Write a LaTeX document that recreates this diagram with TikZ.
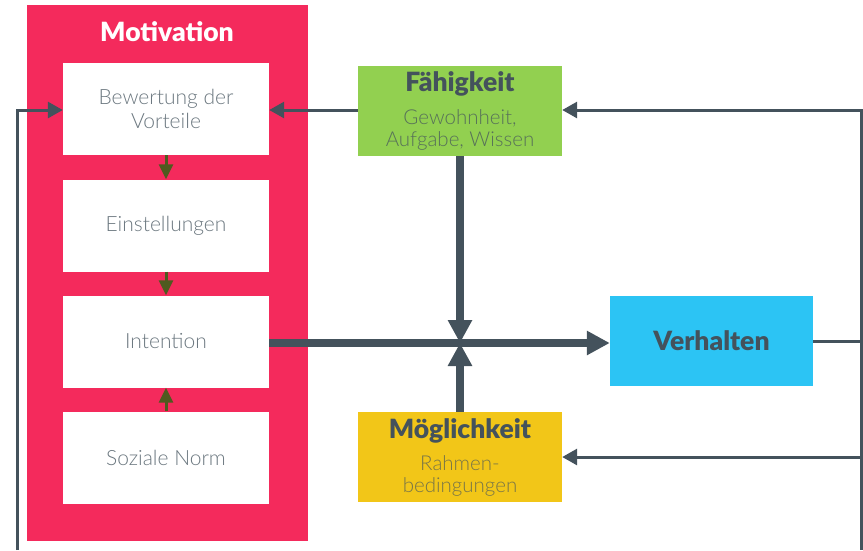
\documentclass[tikz,border=0pt]{standalone}
\usepackage{fontspec}
\setmainfont{Lato}
\newfontfamily\lightfont{Lato Light}
\newfontfamily\heavyfont{Lato Black}
\usetikzlibrary{arrows.meta, positioning}
\definecolor{motired}{RGB}{244,42,92}
\definecolor{faehgreen}{RGB}{146,208,80}
\definecolor{moegyellow}{RGB}{242,198,24}
\definecolor{verhblue}{RGB}{44,196,244}
\definecolor{slate}{RGB}{68,82,92}
\definecolor{stepolive}{RGB}{79,90,31}
\definecolor{boxgray}{RGB}{108,120,128}
\newcommand{\factorhead}{\heavyfont\fontsize{26.5}{30}\selectfont}

\begin{document}
\begin{tikzpicture}[x=1pt, y=-1pt,
  inbox/.style={fill=white, minimum width=206pt, minimum height=92pt, inner sep=0pt, align=center, text=boxgray, font=\lightfont\fontsize{21}{24}\selectfont},
  factor/.style={minimum width=204pt, minimum height=90pt, inner sep=0pt, align=center, font=\lightfont\fontsize{20.5}{22}\selectfont},
  innerarrow/.style={draw=stepolive, line width=3pt, -{Triangle[length=15pt, width=14pt]}},
  thickarrow/.style={draw=slate, line width=7.5pt, -{Triangle[length=23pt, width=23pt]}},
  thinline/.style={draw=slate, line width=3pt},
  thinarrow/.style={thinline, -{Triangle[length=15pt, width=16pt]}},
]
  \useasboundingbox (0,0) rectangle (863,550);

  % Motivation block
  \node[fill=motired, minimum width=281pt, minimum height=536pt, inner sep=0pt] (moti) at (167.5,273) {};
  \node[text=white, font=\heavyfont\fontsize{26.5}{30}\selectfont] (motititle) at (167,32) {Motivation};
  \node[inbox] (bew) at (166,109) {Bewertung der\\Vorteile};
  \node[inbox] (einst) at (166,225.5) {Einstellungen};
  \node[inbox] (inten) at (166,341.5) {Intention};
  \node[inbox] (norm) at (166,457.5) {Soziale Norm};

  % Factors
  \node[factor, fill=faehgreen, text=slate!75!faehgreen] (faeh) at (460,111) {\factorhead\color{slate}Fähigkeit\\[11pt]Gewohnheit,\\Aufgabe, Wissen};
  \node[factor, fill=moegyellow, text=slate!70!moegyellow] (moeg) at (460,457) {\factorhead\color{slate}Möglichkeit\\[10pt]Rahmen-\\bedingungen};
  \node[factor, fill=verhblue, text=slate, minimum width=203pt, font=\heavyfont\fontsize{26.5}{30}\selectfont] (verh) at (711.5,341) {Verhalten};

  % Inner steps
  \draw[innerarrow] (bew) -- (einst);
  \draw[innerarrow] (einst) -- (inten);
  \draw[innerarrow] (norm) -- (inten);

  % Main flow
  \coordinate (hub) at (460,343);
  \draw[thickarrow] (inten.east |- hub) -- (verh.west |- hub);
  \draw[thickarrow] (faeh.south) -- (hub);
  \draw[thickarrow] (moeg.north) -- (hub);

  % Feedback
  \coordinate (rtop) at (861,110);
  \coordinate (rbot) at (861,550);
  \coordinate (lbot) at (17,550);
  \draw[thinarrow] (faeh.west |- rtop) -- (bew.east |- rtop);
  \draw[thinline] (verh.east) -- (verh.east -| rtop);
  \draw[thinarrow] (rbot) -- (rtop) -- (faeh.east |- rtop);
  \draw[thinarrow] (rbot |- moeg.east) -- (moeg.east);
  \draw[thinarrow] (lbot) -- (lbot |- rtop) -- (bew.west |- rtop);
\end{tikzpicture}
\end{document}
